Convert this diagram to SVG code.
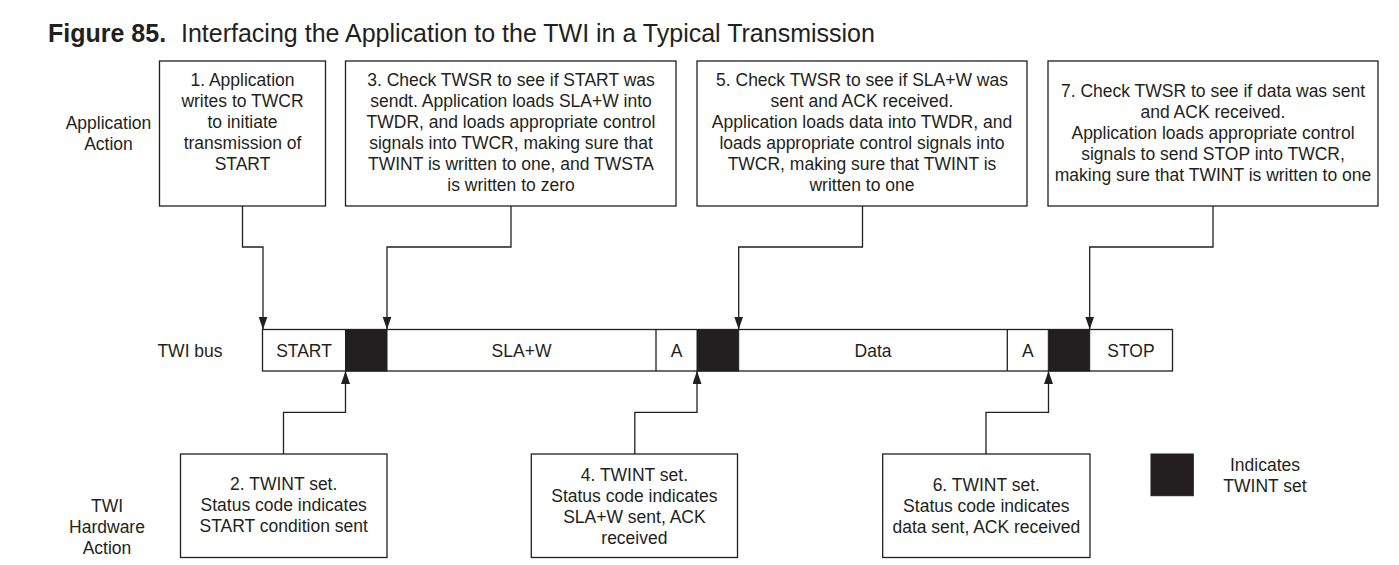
<svg xmlns="http://www.w3.org/2000/svg" width="1399" height="565" viewBox="0 0 1399 565">
<defs>
<style>
text{font-family:"Liberation Sans",Arial,sans-serif;font-size:17.5px;fill:#231f20;text-anchor:middle}
.title{font-size:25px;text-anchor:start}
.bold{font-weight:bold}
.box{fill:#fff;stroke:#231f20;stroke-width:1.3}
.bus{fill:#fff;stroke:#231f20;stroke-width:1.3}
.blk{fill:#231f20;stroke:#231f20;stroke-width:1}
.conn{fill:none;stroke:#231f20;stroke-width:1.3;marker-end:url(#arr)}
</style>
<marker id="arr" markerUnits="userSpaceOnUse" markerWidth="14" markerHeight="10" refX="13" refY="4.5" orient="auto">
<path d="M0,0 L13,4.5 L0,9 z" fill="#231f20"/>
</marker>
</defs>
<rect width="1399" height="565" fill="#fff"/>

<g id="title">
<text class="title" x="48" y="41.5"><tspan class="bold">Figure 85.</tspan><tspan x="181">Interfacing the Application to the TWI in a Typical Transmission</tspan></text>
</g>

<g id="labels">
<text x="108.5" y="128.5">Application</text>
<text x="108.5" y="149.5">Action</text>
<text x="190" y="356.5">TWI bus</text>
<text x="107" y="512">TWI</text>
<text x="107" y="533">Hardware</text>
<text x="107" y="554">Action</text>
</g>

<g id="step1">
<rect class="box" x="159.5" y="61" width="166" height="145"/>
<text x="242.5" y="86">1. Application</text>
<text x="242.5" y="107">writes to TWCR</text>
<text x="242.5" y="128">to initiate</text>
<text x="242.5" y="149">transmission of</text>
<text x="242.5" y="170">START</text>
</g>

<g id="step3">
<rect class="box" x="345.5" y="61" width="330.5" height="145"/>
<text x="511" y="86">3. Check TWSR to see if START was</text>
<text x="511" y="107">sendt. Application loads SLA+W into</text>
<text x="511" y="128">TWDR, and loads appropriate control</text>
<text x="511" y="149">signals into TWCR, making sure that</text>
<text x="511" y="170">TWINT is written to one, and TWSTA</text>
<text x="511" y="191">is written to zero</text>
</g>

<g id="step5">
<rect class="box" x="697" y="61" width="330" height="145"/>
<text x="862" y="86">5. Check TWSR to see if SLA+W was</text>
<text x="862" y="107">sent and ACK received.</text>
<text x="862" y="128">Application loads data into TWDR, and</text>
<text x="862" y="149">loads appropriate control signals into</text>
<text x="862" y="170">TWCR, making sure that TWINT is</text>
<text x="862" y="191">written to one</text>
</g>

<g id="step7">
<rect class="box" x="1048" y="61" width="330" height="145"/>
<text x="1213" y="97">7. Check TWSR to see if data was sent</text>
<text x="1213" y="118">and ACK received.</text>
<text x="1213" y="139">Application loads appropriate control</text>
<text x="1213" y="160">signals to send STOP into TWCR,</text>
<text x="1213" y="181">making sure that TWINT is written to one</text>
</g>

<g id="bus">
<rect class="bus" x="262.5" y="329.5" width="910" height="41.5"/>
<rect class="blk" x="345.5" y="329.5" width="41.5" height="41.5"/>
<rect class="blk" x="697" y="329.5" width="41.7" height="41.5"/>
<rect class="blk" x="1048.3" y="329.5" width="41.4" height="41.5"/>
<line x1="656" y1="329.5" x2="656" y2="371" stroke="#231f20" stroke-width="1.3"/>
<line x1="1007.3" y1="329.5" x2="1007.3" y2="371" stroke="#231f20" stroke-width="1.3"/>
<text x="304" y="356.5">START</text>
<text x="521.5" y="356.5">SLA+W</text>
<text x="676.5" y="356.5">A</text>
<text x="873" y="356.5">Data</text>
<text x="1027.8" y="356.5">A</text>
<text x="1131" y="356.5">STOP</text>
</g>

<g id="step2">
<rect class="box" x="180.5" y="454" width="206.5" height="103.5"/>
<text x="283.7" y="490">2. TWINT set.</text>
<text x="283.7" y="511">Status code indicates</text>
<text x="283.7" y="532">START condition sent</text>
</g>

<g id="step4">
<rect class="box" x="531.3" y="454" width="206.2" height="103.5"/>
<text x="634.4" y="481">4. TWINT set.</text>
<text x="634.4" y="502">Status code indicates</text>
<text x="634.4" y="523">SLA+W sent, ACK</text>
<text x="634.4" y="544">received</text>
</g>

<g id="step6">
<rect class="box" x="882.7" y="454" width="207.3" height="103.5"/>
<text x="986.3" y="491">6. TWINT set.</text>
<text x="986.3" y="512">Status code indicates</text>
<text x="986.3" y="533">data sent, ACK received</text>
</g>

<g id="legend">
<rect class="blk" x="1151" y="454" width="42.3" height="41.7"/>
<text x="1265" y="470.5">Indicates</text>
<text x="1265" y="491.5">TWINT set</text>
</g>

<g id="connectors">
<path class="conn" d="M242.5,206 V247 H263 V329.5"/>
<path class="conn" d="M511,206 V247 H387 V329.5"/>
<path class="conn" d="M862.5,206 V247 H738.7 V329.5"/>
<path class="conn" d="M1213,206 V247 H1089.7 V329.5"/>
<path class="conn" d="M283.5,454 V412.3 H345.5 V371"/>
<path class="conn" d="M634.8,454 V412.3 H697 V371"/>
<path class="conn" d="M986,454 V412.3 H1048.5 V371"/>
</g>
</svg>
